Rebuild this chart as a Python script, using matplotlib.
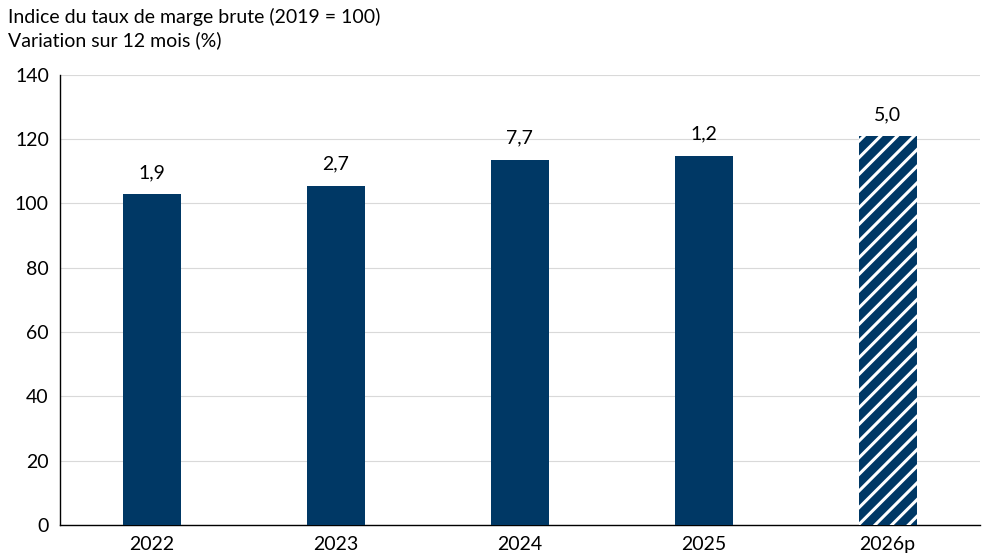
import matplotlib
matplotlib.use("Agg")
import matplotlib.pyplot as plt

years = ["2022", "2023", "2024", "2025", "2026p"]
index_values = [102.8, 105.5, 113.6, 114.9, 121.0]
changes = ["1,9", "2,7", "7,7", "1,2", "5,0"]
forecast = [False, False, False, False, True]

plt.rcParams['font.family'] = ['Lato', 'DejaVu Sans']
plt.rcParams['hatch.linewidth'] = 2.2
plt.rcParams['hatch.color'] = 'white'
color = '#003865'

fig = plt.figure(figsize=(9.92, 5.58), dpi=100)
ax = fig.add_axes([0.0605, 0.059, 0.927, 0.807])
x = range(len(years))
for i, (v, f) in enumerate(zip(index_values, forecast)):
    ax.bar(i, v, width=0.315, color=color, hatch='//' if f else None,
           edgecolor='white' if f else color, linewidth=0, zorder=3)
    ax.text(i, v + 4, changes[i], ha='center', va='bottom', fontsize=14, color='black')
ax.set_xlim(-0.5, len(years) - 0.5)
ax.set_ylim(0, 140)
ax.set_yticks(range(0, 141, 20))
ax.set_xticks(list(x))
ax.set_xticklabels(years)
ax.tick_params(axis='both', length=0, labelsize=14, pad=8)
ax.grid(axis='y', color='#d9d9d9', linewidth=0.8, zorder=0)
for s in ['top', 'right']:
    ax.spines[s].set_visible(False)
for s in ['left', 'bottom']:
    ax.spines[s].set_color('black')
    ax.spines[s].set_linewidth(1)
fig.text(0.008, 0.985, "Indice du taux de marge brute (2019 = 100)\nVariation sur 12 mois (%)",
         ha='left', va='top', fontsize=14, linespacing=1.35)
fig.savefig("out.png", dpi=100)
